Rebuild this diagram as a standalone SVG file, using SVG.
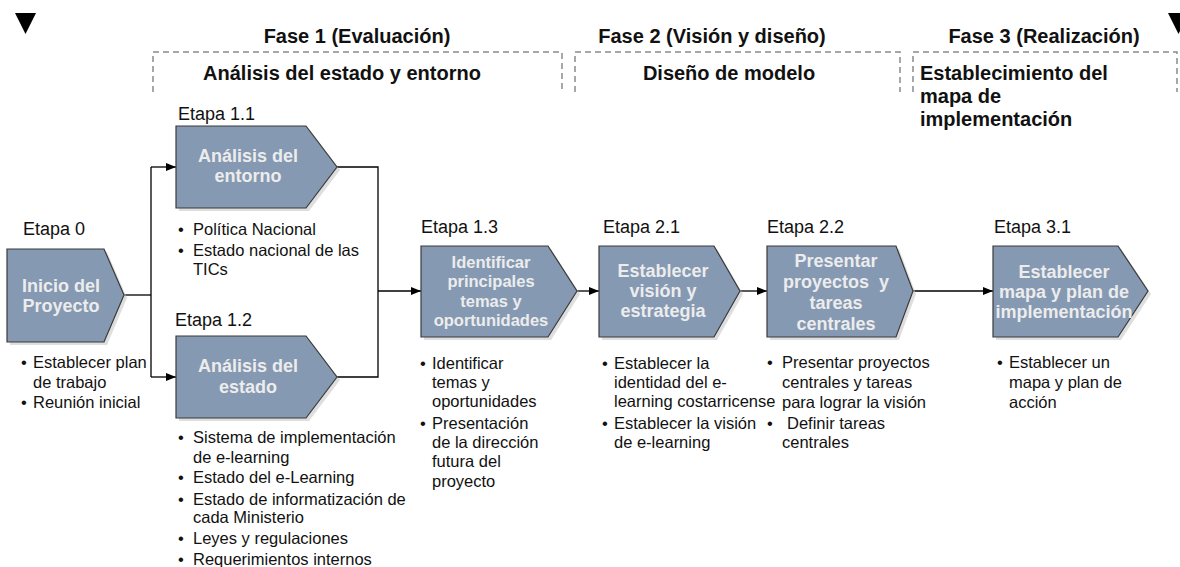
<svg xmlns="http://www.w3.org/2000/svg" width="1180" height="567" viewBox="0 0 1180 567">
<style>
text{font-family:"Liberation Sans",Arial,sans-serif;fill:#111}
.hd{font-size:20px;font-weight:bold}
.et{font-size:18px}
.bl{font-size:16.5px}
.nt{font-size:18px;font-weight:bold;fill:#ececec;text-anchor:middle}
.nt2{font-size:16.5px;font-weight:bold;fill:#ececec;text-anchor:middle}
.nd{fill:#8599b2;stroke:#3a3a3a;stroke-width:1.2}
.sh{fill:#c8c8c8;opacity:0.6}
.dash{fill:none;stroke:#8a8a8a;stroke-width:1.5;stroke-dasharray:6 4}
.cn{fill:none;stroke:#000;stroke-width:1.3}
</style>
<defs>
<marker id="ah" markerWidth="10" markerHeight="8" refX="10" refY="4" orient="auto" markerUnits="userSpaceOnUse">
<path d="M0,0 L10,4 L0,8 Z" fill="#000"/>
</marker>
</defs>

<g id="markers">
<polygon points="15,13 36,13 25.5,34" fill="#000"/>
<polygon points="1168,13 1189,13 1178.5,34" fill="#000"/>
</g>

<g id="phase1">
<text class="hd" x="357" y="43" text-anchor="middle">Fase 1 (Evaluación)</text>
<path class="dash" d="M153,92 V52 H562 V92"/>
<text class="hd" x="342" y="80" text-anchor="middle">Análisis del estado y entorno</text>
</g>
<g id="phase2">
<text class="hd" x="712" y="43" text-anchor="middle">Fase 2 (Visión y diseño)</text>
<path class="dash" d="M575,92 V52 H900 V92"/>
<text class="hd" x="729" y="80" text-anchor="middle">Diseño de modelo</text>
</g>
<g id="phase3">
<text class="hd" x="1044" y="43" text-anchor="middle">Fase 3 (Realización)</text>
<path class="dash" d="M913,92 V52 H1177 V92"/>
<text class="hd" x="920" y="80">Establecimiento del</text>
<text class="hd" x="920" y="103">mapa de</text>
<text class="hd" x="920" y="126">implementación</text>
</g>

<g id="connectors">
<path class="cn" d="M124,295 H151"/>
<path class="cn" d="M151,377 V167"/>
<path class="cn" d="M151,167 H176" marker-end="url(#ah)"/>
<path class="cn" d="M151,377 H176" marker-end="url(#ah)"/>
<path class="cn" d="M337,167 H378 V377 H337"/>
<path class="cn" d="M378,291 H421" marker-end="url(#ah)"/>
<path class="cn" d="M577,291 H599" marker-end="url(#ah)"/>
<path class="cn" d="M740,291 H767" marker-end="url(#ah)"/>
<path class="cn" d="M913,291 H993" marker-end="url(#ah)"/>
</g>

<g id="etapa0">
<text class="et" x="23" y="235">Etapa 0</text>
<polygon class="sh" points="10,252 107,252 127,298 107,345 10,345"/>
<polygon class="nd" points="7,249 104,249 124,295 104,342 7,342"/>
<text class="nt" x="61" y="292">Inicio del</text>
<text class="nt" x="61" y="312">Proyecto</text>
<text class="bl" y="368"><tspan x="21">•</tspan><tspan x="33">Establecer plan</tspan></text>
<text class="bl" x="33" y="388">de trabajo</text>
<text class="bl" y="408"><tspan x="21">•</tspan><tspan x="33">Reunión inicial</tspan></text>
</g>

<g id="etapa11">
<text class="et" x="178" y="120">Etapa 1.1</text>
<polygon class="sh" points="179,129 309,129 340,170 309,211 179,211"/>
<polygon class="nd" points="176,126 306,126 337,167 306,208 176,208"/>
<text class="nt" x="248" y="162">Análisis del</text>
<text class="nt" x="248" y="182">entorno</text>
<text class="bl" y="235"><tspan x="178">•</tspan><tspan x="193">Política Nacional</tspan></text>
<text class="bl" y="256"><tspan x="178">•</tspan><tspan x="193">Estado nacional de las</tspan></text>
<text class="bl" x="193" y="275">TICs</text>
</g>

<g id="etapa12">
<text class="et" x="175" y="326">Etapa 1.2</text>
<polygon class="sh" points="179,339 309,339 340,380 309,421 179,421"/>
<polygon class="nd" points="176,336 306,336 337,377 306,418 176,418"/>
<text class="nt" x="248" y="372">Análisis del</text>
<text class="nt" x="248" y="393">estado</text>
<text class="bl" y="443"><tspan x="178">•</tspan><tspan x="193">Sistema de implementación</tspan></text>
<text class="bl" x="193" y="463">de e-learning</text>
<text class="bl" y="483"><tspan x="178">•</tspan><tspan x="193">Estado del e-Learning</tspan></text>
<text class="bl" y="505"><tspan x="178">•</tspan><tspan x="193">Estado de informatización de</tspan></text>
<text class="bl" x="193" y="523">cada Ministerio</text>
<text class="bl" y="544"><tspan x="178">•</tspan><tspan x="193">Leyes y regulaciones</tspan></text>
<text class="bl" y="565"><tspan x="178">•</tspan><tspan x="193">Requerimientos internos</tspan></text>
</g>

<g id="etapa13">
<text class="et" x="421" y="233">Etapa 1.3</text>
<polygon class="sh" points="424,249 551,249 580,294 551,340 424,340"/>
<polygon class="nd" points="421,246 548,246 577,291 548,337 421,337"/>
<text class="nt2" x="491" y="268">Identificar</text>
<text class="nt2" x="491" y="287">principales</text>
<text class="nt2" x="491" y="307">temas y</text>
<text class="nt2" x="491" y="326">oportunidades</text>
<text class="bl" y="369"><tspan x="420">•</tspan><tspan x="432">Identificar</tspan></text>
<text class="bl" x="432" y="388">temas y</text>
<text class="bl" x="432" y="407">oportunidades</text>
<text class="bl" y="429"><tspan x="420">•</tspan><tspan x="432">Presentación</tspan></text>
<text class="bl" x="432" y="448">de la dirección</text>
<text class="bl" x="432" y="467">futura del</text>
<text class="bl" x="432" y="487">proyecto</text>
</g>

<g id="etapa21">
<text class="et" x="603" y="233">Etapa 2.1</text>
<polygon class="sh" points="602,249 717,249 743,294 717,340 602,340"/>
<polygon class="nd" points="599,246 714,246 740,291 714,337 599,337"/>
<text class="nt" x="663" y="277">Establecer</text>
<text class="nt" x="663" y="297">visión y</text>
<text class="nt" x="663" y="317">estrategia</text>
<text class="bl" y="369"><tspan x="602">•</tspan><tspan x="614">Establecer la</tspan></text>
<text class="bl" x="614" y="388">identidad del e-</text>
<text class="bl" x="614" y="407">learning costarricense</text>
<text class="bl" y="429"><tspan x="602">•</tspan><tspan x="614">Establecer la visión</tspan></text>
<text class="bl" x="614" y="448">de e-learning</text>
</g>

<g id="etapa22">
<text class="et" x="767" y="233">Etapa 2.2</text>
<polygon class="sh" points="770,249 899,249 916,294 899,340 770,340"/>
<polygon class="nd" points="767,246 896,246 913,291 896,337 767,337"/>
<text class="nt" x="836" y="267">Presentar</text>
<text class="nt" x="836" y="288" xml:space="preserve">proyectos  y</text>
<text class="nt" x="836" y="309">tareas</text>
<text class="nt" x="836" y="330">centrales</text>
<text class="bl" y="368"><tspan x="767">•</tspan><tspan x="782">Presentar proyectos</tspan></text>
<text class="bl" x="782" y="388">centrales y tareas</text>
<text class="bl" x="782" y="408">para lograr la visión</text>
<text class="bl" y="429"><tspan x="767">•</tspan><tspan x="787">Definir tareas</tspan></text>
<text class="bl" x="782" y="448">centrales</text>
</g>

<g id="etapa31">
<text class="et" x="994" y="233">Etapa 3.1</text>
<polygon class="sh" points="996,249 1121,249 1151,294 1121,340 996,340"/>
<polygon class="nd" points="993,246 1118,246 1148,291 1118,337 993,337"/>
<text class="nt" x="1064" y="278">Establecer</text>
<text class="nt" x="1064" y="298">mapa y plan de</text>
<text class="nt" x="1064" y="318">implementación</text>
<text class="bl" y="368"><tspan x="997">•</tspan><tspan x="1009">Establecer un</tspan></text>
<text class="bl" x="1009" y="388">mapa y plan de</text>
<text class="bl" x="1009" y="408">acción</text>
</g>
</svg>
